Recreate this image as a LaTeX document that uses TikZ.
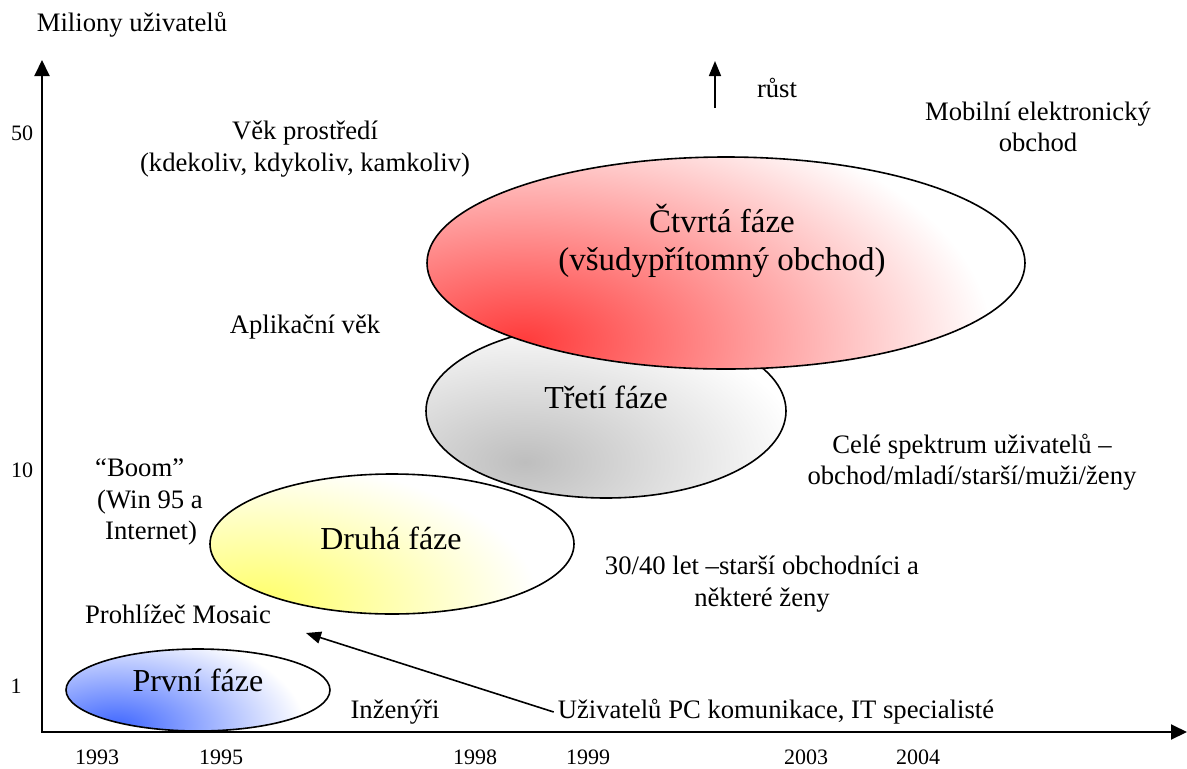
\documentclass[tikz,border=0pt]{standalone}
\usepackage{fontspec}
\setmainfont{Liberation Serif}
\usetikzlibrary{arrows.meta}
\definecolor{glowred}{RGB}{255,58,58}
\definecolor{glowgrey}{RGB}{190,190,190}
\definecolor{glowyellow}{RGB}{255,255,105}
\definecolor{glowblue}{RGB}{60,100,255}
\begin{document}
\begin{tikzpicture}[x=1pt,y=-1pt,
  lbl/.style={font=\fontsize{26.67pt}{31.5pt}\selectfont, inner sep=0pt, align=center},
  tick/.style={font=\fontsize{22pt}{25pt}\selectfont, inner sep=0pt},
  phase/.style={font=\fontsize{32pt}{38pt}\selectfont, inner sep=0pt, align=center},
  axis/.style={line width=2pt, line cap=rect, -{Triangle[length=16pt,width=15pt]}},
  pointer/.style={line width=1.6pt, -{Triangle[length=15pt,width=12pt]}},
  rim/.style={line width=1.6pt}]
\useasboundingbox (0,0) rectangle (1187,769);

% axes
\coordinate (origin) at (42,732);
\coordinate (ytip) at (42,60);
\coordinate (xtip) at (1187,732);
\draw[axis] (origin) -- (ytip);
\draw[axis] (origin) -- (xtip);

% phase ellipses, each with a glow from its lower left
\begin{scope}
  \clip (392,544) ellipse (182 and 70);
  \shade[inner color=glowyellow, outer color=white] (258,602) ellipse (280 and 140);
\end{scope}
\draw[rim] (392,544) ellipse (182 and 70);

\begin{scope}
  \clip (606,411) ellipse (180 and 87);
  \shade[inner color=glowgrey, outer color=white] (525,462) ellipse (280 and 150);
\end{scope}
\draw[rim] (606,411) ellipse (180 and 87);

\begin{scope}
  \clip (726,263) ellipse (299 and 106);
  \shade[inner color=glowred, outer color=white] (522,342) ellipse (470 and 250);
\end{scope}
\draw[rim] (726,263) ellipse (299 and 106);

\begin{scope}
  \clip (198,690) ellipse (132 and 41);
  \shade[inner color=glowblue, outer color=white] (115,728) ellipse (190 and 100);
\end{scope}
\draw[rim] (198,690) ellipse (132 and 41);

% phase names
\node[phase, font=\fontsize{33pt}{38pt}\selectfont] (p4) at (722,241) {Čtvrtá fáze\\(všudypřítomný obchod)};
\node[phase] (p3) at (606,397) {Třetí fáze};
\node[phase] (p2) at (391,538) {Druhá fáze};
\node[phase] (p1) at (198,680) {První fáze};

% axis labels
\node[lbl] (yname) at (132,25) {Miliony uživatelů};
\node[tick] (t50) at (22,133) {50};
\node[tick] (t10) at (22,470) {10};
\node[tick] (t1) at (16,686) {1};
\node[tick] (y93) at (97,757) {1993};
\node[tick] (y95) at (221,757) {1995};
\node[tick] (y98) at (475,757) {1998};
\node[tick] (y99) at (588,757) {1999};
\node[tick] (y03) at (806,757) {2003};
\node[tick] (y04) at (918,757) {2004};

% growth marker
\coordinate (growbase) at (715,108);
\coordinate (growtip) at (715,61);
\draw[pointer] (growbase) -- (growtip);
\node[lbl] (grow) at (777,88) {růst};

% descriptions
\node[lbl] (mcomm) at (1038,127) {Mobilní elektronický\\obchod};
\node[lbl] (ambient) at (305,149) {Věk prostředí\\(kdekoliv, kdykoliv, kamkoliv)};
\node[lbl] (appage) at (305,327) {Aplikační věk};
\node[lbl] (spectrum) at (972,462) {Celé spektrum uživatelů –\\obchod/mladí/starší/muži/ženy};
\node[lbl, align=left, anchor=west] (boom) at (95,502)
  {“Boom”\\\hspace*{2pt}(Win 95 a\\\hspace*{10pt}Internet)};
\node[lbl] (ageing) at (762,584) {30/40 let –starší obchodníci a\\některé ženy};
\node[lbl] (mosaic) at (178,614) {Prohlížeč Mosaic};
\node[lbl] (engineers) at (395,712) {Inženýři};
\node[lbl] (pcusers) at (776,712) {Uživatelů PC komunikace, IT specialisté};

\coordinate (mosaictip) at (306,633);
\draw[pointer] ([xshift=-4pt]pcusers.west) -- (mosaictip);
\end{tikzpicture}
\end{document}
